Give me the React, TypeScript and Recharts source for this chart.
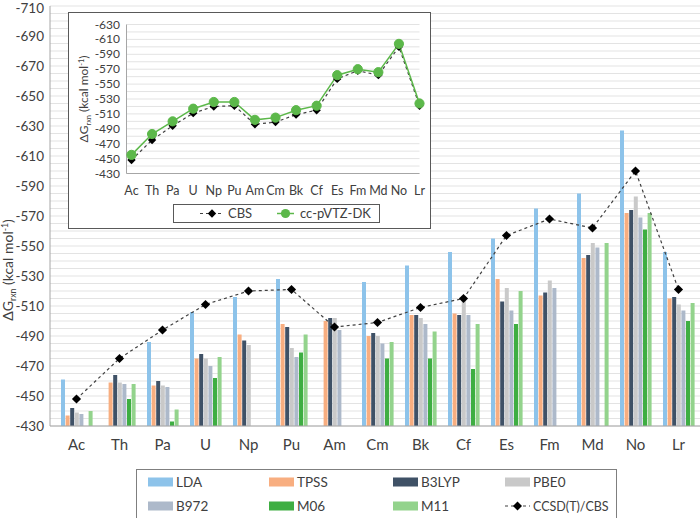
import React from 'react';
import { ComposedChart, Bar, Line, XAxis, YAxis, CartesianGrid } from 'recharts';

const categories = ['Ac', 'Th', 'Pa', 'U', 'Np', 'Pu', 'Am', 'Cm', 'Bk', 'Cf', 'Es', 'Fm', 'Md', 'No', 'Lr'];

const lda = [-461, null, -486, -506, -516, -528, null, -526, -537, -546, -555, -575, -585, -627, -546];
const tpss = [-437, -459, -457, -475, -491, -498, -500, -490, -504, -505, -528, -517, -542, -572, -515];
const b3lyp = [-442, -464, -460, -478, -487, -496, -502, -492, -504, -504, -513, -519, -544, -574, -516];
const pbe0 = [-439, -459, -457, -475, -484, -482, -502, -490, -502, -514, -522, -527, -552, -583, -511];
const b972 = [-438, -458, -456, -470, null, -476, -494, -485, -498, -504, -507, -522, -549, -569, -507];
const m06 = [null, -448, -433, -462, null, -479, null, -475, -475, -468, -498, null, null, -561, -500];
const m11 = [-440, -458, -441, -476, null, -491, null, -486, -493, -498, -520, null, -552, -572, -512];
const ccsd = [-448, -475, -494, -511, -520, -521, -496, -499, -509, -515, -557, -568, -562, -600, -521];
const ccpvtz = [-455, -483, -500, -517, -526, -526, -502, -505, -515, -521, -562, -570, -566, -604, -524];

const mainTickLabels = [-710, -690, -670, -650, -630, -610, -590, -570, -550, -530, -510, -490, -470, -450, -430];
const insetTickLabels = [-630, -610, -590, -570, -550, -530, -510, -490, -470, -450, -430];

const COLORS = {
  lda: '#8DC3EA',
  tpss: '#F8AE80',
  b3lyp: '#3F5166',
  pbe0: '#C9C9C9',
  b972: '#ADB9CA',
  m06: '#3EAE42',
  m11: '#93D38C',
};

const FONT = 'Lato, "Open Sans", sans-serif';
const TEXT = '#404040';

// gridlines every 5 (main) and every 10 (inset); labels only on the 20s
const mainGrid: number[] = [];
for (let v = -710; v <= -430; v += 5) mainGrid.push(v);
const insetGrid: number[] = [];
for (let v = -630; v <= -430; v += 10) insetGrid.push(v);

const data = categories.map((name, i) => ({
  name,
  lda: lda[i],
  tpss: tpss[i],
  b3lyp: b3lyp[i],
  pbe0: pbe0[i],
  b972: b972[i],
  m06: m06[i],
  m11: m11[i],
  ccsd: ccsd[i],
  ccpvtz: ccpvtz[i],
}));

const Diamond = (r: number) => (props: any) => {
  const { cx, cy, index } = props;
  if (cx == null || cy == null) return <g key={index} />;
  return (
    <path
      key={index}
      d={`M${cx},${cy - r} L${cx + r},${cy} L${cx},${cy + r} L${cx - r},${cy} Z`}
      fill="#000"
    />
  );
};

const GreenDot = (props: any) => {
  const { cx, cy, index } = props;
  return <circle key={index} cx={cx} cy={cy} r={4.6} fill="#5CB84A" stroke="#5CB84A" />;
};

const MainYTick = (props: any) => {
  const { y, payload } = props;
  if (!mainTickLabels.includes(payload.value)) return <g />;
  return (
    <text x={44} y={Math.max(y + 5, 13)} textAnchor="end" fontSize={13.5} fill={TEXT} fontFamily={FONT}>
      {payload.value}
    </text>
  );
};

const MainXTick = (props: any) => {
  const { x, payload } = props;
  return (
    <text x={x} y={450} textAnchor="middle" fontSize={15} fill={TEXT} fontFamily={FONT}>
      {payload.value}
    </text>
  );
};

const InsetYTick = (props: any) => {
  const { y, payload } = props;
  if (!insetTickLabels.includes(payload.value)) return <g />;
  return (
    <text x={51} y={y + 4} textAnchor="end" fontSize={12} fill={TEXT} fontFamily={FONT}>
      {payload.value}
    </text>
  );
};

const InsetXTick = (props: any) => {
  const { x, payload } = props;
  return (
    <text x={x} y={182} textAnchor="middle" fontSize={12.5} fill={TEXT} fontFamily={FONT}>
      {payload.value}
    </text>
  );
};

const legendItems = [
  { name: 'LDA', color: COLORS.lda },
  { name: 'TPSS', color: COLORS.tpss },
  { name: 'B3LYP', color: COLORS.b3lyp },
  { name: 'PBE0', color: COLORS.pbe0 },
  { name: 'B972', color: COLORS.b972 },
  { name: 'M06', color: COLORS.m06 },
  { name: 'M11', color: COLORS.m11 },
  { name: 'CCSD(T)/CBS', color: null },
];
const legendCols = [11, 132, 256, 368];
const legendRows = [12, 36];

const AxisTitle = ({ x, y, size }: { x: number; y: number; size: number }) => (
  <text
    transform={`translate(${x},${y}) rotate(-90)`}
    textAnchor="middle"
    fontSize={size}
    fill={TEXT}
    fontFamily={FONT}
  >
    ΔG
    <tspan fontSize={size * 0.62} dy={size * 0.22}>rxn</tspan>
    <tspan dy={-size * 0.22}> (kcal mol</tspan>
    <tspan fontSize={size * 0.62} dy={-size * 0.35}>-1</tspan>
    <tspan dy={size * 0.35}>)</tspan>
  </text>
);

export default function App() {
  return (
    <div style={{ position: 'absolute', left: 0, top: 0, width: 700, height: 518, background: '#fff', overflow: 'hidden', fontFamily: FONT }}>
      <ComposedChart
        width={700}
        height={518}
        data={data}
        margin={{ top: 6, right: 0, bottom: 62, left: 0 }}
        barSize={4}
        barGap={0.6}
      >
        <CartesianGrid horizontal vertical={false} stroke="#E3E3E3" />
        <XAxis
          dataKey="name"
          height={30}
          padding={{ left: 5, right: 0 }}
          tickLine={false}
          axisLine={{ stroke: '#A6A6A6' }}
          tick={MainXTick}
          interval={0}
        />
        <YAxis
          width={50}
          type="number"
          domain={[-710, -430]}
          reversed
          ticks={mainGrid}
          interval={0}
          tickLine={false}
          axisLine={{ stroke: '#A6A6A6' }}
          tick={MainYTick}
          allowDataOverflow
        />
        <Bar dataKey="lda" fill={COLORS.lda} isAnimationActive={false} />
        <Bar dataKey="tpss" fill={COLORS.tpss} isAnimationActive={false} />
        <Bar dataKey="b3lyp" fill={COLORS.b3lyp} isAnimationActive={false} />
        <Bar dataKey="pbe0" fill={COLORS.pbe0} isAnimationActive={false} />
        <Bar dataKey="b972" fill={COLORS.b972} isAnimationActive={false} />
        <Bar dataKey="m06" fill={COLORS.m06} isAnimationActive={false} />
        <Bar dataKey="m11" fill={COLORS.m11} isAnimationActive={false} />
        <Line
          dataKey="ccsd"
          stroke="#404040"
          strokeWidth={1.2}
          strokeDasharray="3 3"
          dot={Diamond(4.6)}
          activeDot={false}
          isAnimationActive={false}
        />
      </ComposedChart>

      <svg width={700} height={518} style={{ position: 'absolute', left: 0, top: 0, pointerEvents: 'none' }}>
        <AxisTitle x={13} y={270} size={14} />
      </svg>

      {/* inset */}
      <div
        style={{
          position: 'absolute',
          left: 68,
          top: 12,
          width: 363,
          height: 217,
          border: '1.5px solid #595959',
          boxSizing: 'border-box',
          background: '#fff',
        }}
      >
        <ComposedChart
          width={360}
          height={214}
          data={data}
          margin={{ top: 11.5, right: 9.5, bottom: 33.5, left: 0 }}
        >
          <CartesianGrid horizontal vertical={false} stroke="#E3E3E3" />
          <XAxis
            dataKey="name"
            height={20}
            padding={{ left: 5, right: 0 }}
            tickLine={false}
            axisLine={{ stroke: '#A6A6A6' }}
            tick={InsetXTick}
            interval={0}
          />
          <YAxis
            width={57.5}
            type="number"
            domain={[-630, -430]}
            reversed
            ticks={insetGrid}
            interval={0}
            tickLine={false}
            axisLine={{ stroke: '#A6A6A6' }}
            tick={InsetYTick}
            allowDataOverflow
          />
          <Line
            dataKey="ccsd"
            stroke="#404040"
            strokeWidth={1.2}
            strokeDasharray="3 3"
            dot={Diamond(4.2)}
            activeDot={false}
            isAnimationActive={false}
          />
          <Line
            dataKey="ccpvtz"
            stroke="#5CB84A"
            strokeWidth={1.5}
            dot={GreenDot}
            activeDot={false}
            isAnimationActive={false}
          />
        </ComposedChart>
        <svg width={360} height={214} style={{ position: 'absolute', left: 0, top: 0, pointerEvents: 'none' }}>
          <AxisTitle x={19} y={86} size={12} />
        </svg>
        <div
          style={{
            position: 'absolute',
            left: 103.5,
            top: 190.5,
            width: 207,
            height: 19,
            border: '1px solid #595959',
            boxSizing: 'border-box',
            background: '#fff',
          }}
        >
          <svg width={205} height={17} style={{ position: 'absolute', left: 0, top: 0 }}>
            <line x1={26} x2={50} y1={8.5} y2={8.5} stroke="#404040" strokeWidth={1.2} strokeDasharray="3 3" />
            <path d="M38,4.3 L42.2,8.5 L38,12.7 L33.8,8.5 Z" fill="#000" />
            <text x={54} y={13} fontSize={13} fill={TEXT} fontFamily={FONT}>CBS</text>
            <line x1={103} x2={120} y1={8.5} y2={8.5} stroke="#5CB84A" strokeWidth={1.5} />
            <circle cx={111.5} cy={8.5} r={4.6} fill="#5CB84A" />
            <text x={126} y={13} fontSize={13} fill={TEXT} fontFamily={FONT}>cc-pVTZ-DK</text>
          </svg>
        </div>
      </div>

      {/* main legend */}
      <div
        style={{
          position: 'absolute',
          left: 136,
          top: 469,
          width: 481,
          height: 50,
          border: '1px solid #7F7F7F',
          boxSizing: 'border-box',
          background: '#fff',
        }}
      >
        <svg width={479} height={48} style={{ position: 'absolute', left: 0, top: 0 }}>
          {legendItems.map((item, i) => {
            const x = legendCols[i % 4];
            const y = legendRows[Math.floor(i / 4)];
            return (
              <g key={item.name}>
                {item.color ? (
                  <rect x={x} y={y - 4.5} width={25} height={9} fill={item.color} />
                ) : (
                  <g>
                    <line x1={x} x2={x + 25} y1={y} y2={y} stroke="#404040" strokeWidth={1.2} strokeDasharray="3 3" />
                    <path d={`M${x + 12.5},${y - 4.5} L${x + 17},${y} L${x + 12.5},${y + 4.5} L${x + 8},${y} Z`} fill="#000" />
                  </g>
                )}
                <text x={x + 28} y={y + 5} fontSize={item.color ? 13.5 : 12.5} fill={TEXT} fontFamily={FONT}>
                  {item.name}
                </text>
              </g>
            );
          })}
        </svg>
      </div>
    </div>
  );
}
